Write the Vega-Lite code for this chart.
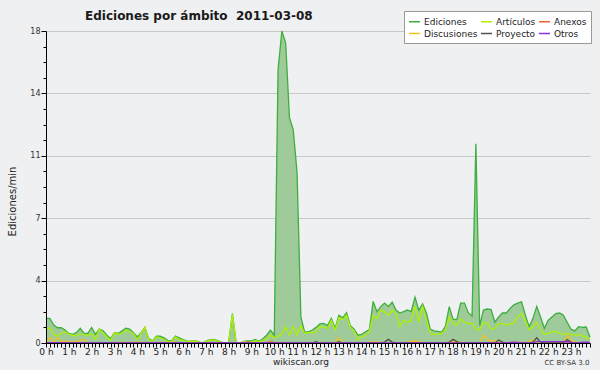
{
"$schema": "https://vega.github.io/schema/vega-lite/v6.json",
"width": 544, "height": 312,
"autosize": {"type": "none"},
"padding": {"left": 46, "top": 31, "right": 10, "bottom": 27},
"background": "#eff0f1",
"config": {"view": {"stroke": null}, "font": "DejaVu Sans"},
"title": {"text": "Ediciones por ámbito \u00a02011-03-08", "anchor": "start", "frame": "group", "dx": 39, "dy": 19, "offset": -2, "fontSize": 12, "fontWeight": "bold", "color": "#1a1a1a", "font": "DejaVu Sans", "baseline": "alphabetic"},
"data": {"values": [
{"m":0,"Ediciones":1.42,"Artículos":0.85,"Anexos":0,"Discusiones":0,"Proyecto":0,"Otros":0},
{"m":10,"Ediciones":1.42,"Artículos":0.85,"Anexos":0,"Discusiones":0.33,"Proyecto":0,"Otros":0},
{"m":20,"Ediciones":1.05,"Artículos":0.5,"Anexos":0,"Discusiones":0.05,"Proyecto":0,"Otros":0},
{"m":30,"Ediciones":0.88,"Artículos":0.4,"Anexos":0,"Discusiones":0.33,"Proyecto":0,"Otros":0},
{"m":40,"Ediciones":0.88,"Artículos":0.55,"Anexos":0,"Discusiones":0.1,"Proyecto":0,"Otros":0},
{"m":50,"Ediciones":0.75,"Artículos":0.65,"Anexos":0,"Discusiones":0.08,"Proyecto":0,"Otros":0},
{"m":60,"Ediciones":0.55,"Artículos":0.5,"Anexos":0,"Discusiones":0.1,"Proyecto":0,"Otros":0},
{"m":70,"Ediciones":0.5,"Artículos":0.45,"Anexos":0,"Discusiones":0.02,"Proyecto":0,"Otros":0},
{"m":80,"Ediciones":0.6,"Artículos":0.4,"Anexos":0,"Discusiones":0.1,"Proyecto":0,"Otros":0},
{"m":90,"Ediciones":0.85,"Artículos":0.5,"Anexos":0,"Discusiones":0.15,"Proyecto":0,"Otros":0},
{"m":100,"Ediciones":0.56,"Artículos":0.5,"Anexos":0,"Discusiones":0.2,"Proyecto":0,"Otros":0},
{"m":110,"Ediciones":0.56,"Artículos":0.4,"Anexos":0,"Discusiones":0,"Proyecto":0,"Otros":0},
{"m":120,"Ediciones":0.9,"Artículos":0.55,"Anexos":0,"Discusiones":0,"Proyecto":0,"Otros":0},
{"m":130,"Ediciones":0.5,"Artículos":0.2,"Anexos":0,"Discusiones":0,"Proyecto":0,"Otros":0},
{"m":140,"Ediciones":0.81,"Artículos":0.8,"Anexos":0,"Discusiones":0,"Proyecto":0,"Otros":0},
{"m":150,"Ediciones":0.7,"Artículos":0.6,"Anexos":0,"Discusiones":0,"Proyecto":0,"Otros":0},
{"m":160,"Ediciones":0.45,"Artículos":0.35,"Anexos":0,"Discusiones":0,"Proyecto":0,"Otros":0},
{"m":170,"Ediciones":0.25,"Artículos":0.15,"Anexos":0,"Discusiones":0,"Proyecto":0,"Otros":0},
{"m":180,"Ediciones":0.6,"Artículos":0.6,"Anexos":0,"Discusiones":0,"Proyecto":0,"Otros":0},
{"m":190,"Ediciones":0.55,"Artículos":0.5,"Anexos":0,"Discusiones":0,"Proyecto":0,"Otros":0},
{"m":200,"Ediciones":0.7,"Artículos":0.55,"Anexos":0,"Discusiones":0.07,"Proyecto":0,"Otros":0},
{"m":210,"Ediciones":0.85,"Artículos":0.75,"Anexos":0,"Discusiones":0,"Proyecto":0,"Otros":0},
{"m":220,"Ediciones":0.8,"Artículos":0.65,"Anexos":0,"Discusiones":0,"Proyecto":0,"Otros":0},
{"m":230,"Ediciones":0.6,"Artículos":0.55,"Anexos":0,"Discusiones":0,"Proyecto":0,"Otros":0},
{"m":240,"Ediciones":0.35,"Artículos":0.2,"Anexos":0,"Discusiones":0.07,"Proyecto":0,"Otros":0},
{"m":250,"Ediciones":0.6,"Artículos":0.55,"Anexos":0,"Discusiones":0.03,"Proyecto":0,"Otros":0},
{"m":260,"Ediciones":0.9,"Artículos":0.9,"Anexos":0,"Discusiones":0,"Proyecto":0,"Otros":0},
{"m":270,"Ediciones":0.25,"Artículos":0.2,"Anexos":0,"Discusiones":0,"Proyecto":0,"Otros":0},
{"m":280,"Ediciones":0.12,"Artículos":0.1,"Anexos":0,"Discusiones":0,"Proyecto":0,"Otros":0},
{"m":290,"Ediciones":0.4,"Artículos":0.35,"Anexos":0,"Discusiones":0,"Proyecto":0,"Otros":0},
{"m":300,"Ediciones":0.4,"Artículos":0.3,"Anexos":0,"Discusiones":0,"Proyecto":0,"Otros":0},
{"m":310,"Ediciones":0.3,"Artículos":0.2,"Anexos":0,"Discusiones":0,"Proyecto":0,"Otros":0},
{"m":320,"Ediciones":0.15,"Artículos":0.1,"Anexos":0,"Discusiones":0,"Proyecto":0,"Otros":0},
{"m":330,"Ediciones":0.12,"Artículos":0.08,"Anexos":0,"Discusiones":0.05,"Proyecto":0,"Otros":0},
{"m":340,"Ediciones":0.4,"Artículos":0.35,"Anexos":0,"Discusiones":0.05,"Proyecto":0,"Otros":0},
{"m":350,"Ediciones":0.3,"Artículos":0.2,"Anexos":0,"Discusiones":0,"Proyecto":0,"Otros":0},
{"m":360,"Ediciones":0.2,"Artículos":0.15,"Anexos":0,"Discusiones":0,"Proyecto":0,"Otros":0},
{"m":370,"Ediciones":0.12,"Artículos":0.1,"Anexos":0,"Discusiones":0,"Proyecto":0,"Otros":0},
{"m":380,"Ediciones":0.1,"Artículos":0.08,"Anexos":0,"Discusiones":0,"Proyecto":0,"Otros":0},
{"m":390,"Ediciones":0.12,"Artículos":0.1,"Anexos":0,"Discusiones":0,"Proyecto":0,"Otros":0},
{"m":400,"Ediciones":0.1,"Artículos":0.08,"Anexos":0,"Discusiones":0,"Proyecto":0,"Otros":0},
{"m":410,"Ediciones":0,"Artículos":0,"Anexos":0,"Discusiones":0,"Proyecto":0,"Otros":0},
{"m":420,"Ediciones":0.1,"Artículos":0.08,"Anexos":0,"Discusiones":0,"Proyecto":0,"Otros":0},
{"m":430,"Ediciones":0.18,"Artículos":0.15,"Anexos":0,"Discusiones":0,"Proyecto":0,"Otros":0},
{"m":440,"Ediciones":0.21,"Artículos":0.18,"Anexos":0,"Discusiones":0,"Proyecto":0,"Otros":0},
{"m":450,"Ediciones":0.15,"Artículos":0.12,"Anexos":0,"Discusiones":0,"Proyecto":0,"Otros":0},
{"m":460,"Ediciones":0.05,"Artículos":0.03,"Anexos":0,"Discusiones":0,"Proyecto":0,"Otros":0},
{"m":470,"Ediciones":0,"Artículos":0,"Anexos":0,"Discusiones":0,"Proyecto":0,"Otros":0},
{"m":480,"Ediciones":0,"Artículos":0,"Anexos":0,"Discusiones":0,"Proyecto":0,"Otros":0},
{"m":490,"Ediciones":1.7,"Artículos":1.65,"Anexos":0,"Discusiones":0,"Proyecto":0,"Otros":0},
{"m":500,"Ediciones":0,"Artículos":0,"Anexos":0,"Discusiones":0,"Proyecto":0,"Otros":0},
{"m":510,"Ediciones":0,"Artículos":0,"Anexos":0,"Discusiones":0,"Proyecto":0,"Otros":0},
{"m":520,"Ediciones":0.1,"Artículos":0.08,"Anexos":0,"Discusiones":0,"Proyecto":0,"Otros":0},
{"m":530,"Ediciones":0.12,"Artículos":0.06,"Anexos":0.06,"Discusiones":0,"Proyecto":0,"Otros":0},
{"m":540,"Ediciones":0.12,"Artículos":0.05,"Anexos":0.02,"Discusiones":0,"Proyecto":0,"Otros":0},
{"m":550,"Ediciones":0.2,"Artículos":0.15,"Anexos":0,"Discusiones":0,"Proyecto":0,"Otros":0},
{"m":560,"Ediciones":0.1,"Artículos":0.08,"Anexos":0,"Discusiones":0,"Proyecto":0,"Otros":0},
{"m":570,"Ediciones":0.25,"Artículos":0.15,"Anexos":0,"Discusiones":0,"Proyecto":0,"Otros":0},
{"m":580,"Ediciones":0.45,"Artículos":0.25,"Anexos":0,"Discusiones":0,"Proyecto":0,"Otros":0},
{"m":590,"Ediciones":0.75,"Artículos":0.45,"Anexos":0.1,"Discusiones":0.05,"Proyecto":0,"Otros":0},
{"m":600,"Ediciones":0.45,"Artículos":0.3,"Anexos":0.02,"Discusiones":0,"Proyecto":0,"Otros":0},
{"m":610,"Ediciones":15.75,"Artículos":0.4,"Anexos":0,"Discusiones":0,"Proyecto":0,"Otros":0},
{"m":620,"Ediciones":18,"Artículos":0.5,"Anexos":0,"Discusiones":0,"Proyecto":0,"Otros":0},
{"m":630,"Ediciones":17.3,"Artículos":0.94,"Anexos":0,"Discusiones":0,"Proyecto":0,"Otros":0},
{"m":640,"Ediciones":13,"Artículos":0.45,"Anexos":0,"Discusiones":0,"Proyecto":0,"Otros":0},
{"m":650,"Ediciones":12.3,"Artículos":0.94,"Anexos":0,"Discusiones":0,"Proyecto":0,"Otros":0},
{"m":660,"Ediciones":9.8,"Artículos":0.45,"Anexos":0,"Discusiones":0,"Proyecto":0,"Otros":0},
{"m":670,"Ediciones":1.5,"Artículos":0.98,"Anexos":0,"Discusiones":0,"Proyecto":0,"Otros":0},
{"m":680,"Ediciones":0.62,"Artículos":0.56,"Anexos":0,"Discusiones":0,"Proyecto":0,"Otros":0},
{"m":690,"Ediciones":0.65,"Artículos":0.6,"Anexos":0,"Discusiones":0,"Proyecto":0,"Otros":0},
{"m":700,"Ediciones":0.75,"Artículos":0.6,"Anexos":0,"Discusiones":0,"Proyecto":0,"Otros":0},
{"m":710,"Ediciones":0.9,"Artículos":0.65,"Anexos":0,"Discusiones":0,"Proyecto":0.07,"Otros":0},
{"m":720,"Ediciones":1.1,"Artículos":0.95,"Anexos":0,"Discusiones":0.05,"Proyecto":0,"Otros":0},
{"m":730,"Ediciones":1.13,"Artículos":0.9,"Anexos":0,"Discusiones":0,"Proyecto":0,"Otros":0},
{"m":740,"Ediciones":1.0,"Artículos":0.85,"Anexos":0,"Discusiones":0,"Proyecto":0,"Otros":0},
{"m":750,"Ediciones":1.42,"Artículos":1.3,"Anexos":0,"Discusiones":0,"Proyecto":0,"Otros":0},
{"m":760,"Ediciones":0.85,"Artículos":0.75,"Anexos":0,"Discusiones":0.05,"Proyecto":0,"Otros":0},
{"m":770,"Ediciones":1.6,"Artículos":1.46,"Anexos":0,"Discusiones":0.3,"Proyecto":0.07,"Otros":0},
{"m":780,"Ediciones":1.45,"Artículos":1.35,"Anexos":0,"Discusiones":0.05,"Proyecto":0,"Otros":0},
{"m":790,"Ediciones":1.75,"Artículos":1.6,"Anexos":0,"Discusiones":0,"Proyecto":0,"Otros":0},
{"m":800,"Ediciones":1.0,"Artículos":0.9,"Anexos":0,"Discusiones":0,"Proyecto":0,"Otros":0},
{"m":810,"Ediciones":0.8,"Artículos":0.7,"Anexos":0,"Discusiones":0,"Proyecto":0,"Otros":0},
{"m":820,"Ediciones":0.45,"Artículos":0.2,"Anexos":0,"Discusiones":0,"Proyecto":0,"Otros":0},
{"m":830,"Ediciones":0.5,"Artículos":0.35,"Anexos":0,"Discusiones":0,"Proyecto":0,"Otros":0},
{"m":840,"Ediciones":0.65,"Artículos":0.46,"Anexos":0,"Discusiones":0,"Proyecto":0,"Otros":0},
{"m":850,"Ediciones":0.77,"Artículos":0.65,"Anexos":0,"Discusiones":0.05,"Proyecto":0,"Otros":0},
{"m":860,"Ediciones":2.4,"Artículos":1.6,"Anexos":0,"Discusiones":0.06,"Proyecto":0,"Otros":0},
{"m":870,"Ediciones":1.81,"Artículos":1.4,"Anexos":0,"Discusiones":0.06,"Proyecto":0,"Otros":0},
{"m":880,"Ediciones":2.1,"Artículos":1.9,"Anexos":0,"Discusiones":0,"Proyecto":0,"Otros":0},
{"m":890,"Ediciones":2.3,"Artículos":1.8,"Anexos":0,"Discusiones":0,"Proyecto":0.05,"Otros":0},
{"m":900,"Ediciones":2.1,"Artículos":1.6,"Anexos":0,"Discusiones":0,"Proyecto":0.21,"Otros":0},
{"m":910,"Ediciones":2.35,"Artículos":1.9,"Anexos":0,"Discusiones":0,"Proyecto":0.05,"Otros":0},
{"m":920,"Ediciones":1.9,"Artículos":1.7,"Anexos":0,"Discusiones":0,"Proyecto":0,"Otros":0},
{"m":930,"Ediciones":1.73,"Artículos":0.94,"Anexos":0,"Discusiones":0,"Proyecto":0,"Otros":0},
{"m":940,"Ediciones":1.81,"Artículos":1.3,"Anexos":0,"Discusiones":0,"Proyecto":0,"Otros":0},
{"m":950,"Ediciones":1.9,"Artículos":1.2,"Anexos":0,"Discusiones":0,"Proyecto":0,"Otros":0},
{"m":960,"Ediciones":1.81,"Artículos":1.3,"Anexos":0,"Discusiones":0.1,"Proyecto":0,"Otros":0},
{"m":970,"Ediciones":2.65,"Artículos":2.13,"Anexos":0,"Discusiones":0.1,"Proyecto":0,"Otros":0},
{"m":980,"Ediciones":1.9,"Artículos":1.2,"Anexos":0,"Discusiones":0.08,"Proyecto":0,"Otros":0},
{"m":990,"Ediciones":2.25,"Artículos":2.1,"Anexos":0,"Discusiones":0,"Proyecto":0,"Otros":0},
{"m":1000,"Ediciones":1.73,"Artículos":1.3,"Anexos":0,"Discusiones":0,"Proyecto":0,"Otros":0},
{"m":1010,"Ediciones":0.8,"Artículos":0.56,"Anexos":0,"Discusiones":0,"Proyecto":0,"Otros":0},
{"m":1020,"Ediciones":0.7,"Artículos":0.5,"Anexos":0,"Discusiones":0,"Proyecto":0,"Otros":0},
{"m":1030,"Ediciones":0.67,"Artículos":0.52,"Anexos":0,"Discusiones":0,"Proyecto":0,"Otros":0},
{"m":1040,"Ediciones":0.63,"Artículos":0.55,"Anexos":0,"Discusiones":0,"Proyecto":0,"Otros":0},
{"m":1050,"Ediciones":0.96,"Artículos":0.75,"Anexos":0,"Discusiones":0,"Proyecto":0,"Otros":0},
{"m":1060,"Ediciones":2.1,"Artículos":1.5,"Anexos":0,"Discusiones":0,"Proyecto":0.05,"Otros":0},
{"m":1070,"Ediciones":1.37,"Artículos":1.13,"Anexos":0,"Discusiones":0.1,"Proyecto":0.21,"Otros":0},
{"m":1080,"Ediciones":1.35,"Artículos":1.04,"Anexos":0,"Discusiones":0.1,"Proyecto":0.08,"Otros":0},
{"m":1090,"Ediciones":2.3,"Artículos":1.4,"Anexos":0,"Discusiones":0,"Proyecto":0,"Otros":0},
{"m":1100,"Ediciones":2.3,"Artículos":1.2,"Anexos":0,"Discusiones":0,"Proyecto":0,"Otros":0},
{"m":1110,"Ediciones":1.75,"Artículos":1.1,"Anexos":0,"Discusiones":0,"Proyecto":0,"Otros":0},
{"m":1120,"Ediciones":1.55,"Artículos":1.15,"Anexos":0,"Discusiones":0,"Proyecto":0,"Otros":0},
{"m":1130,"Ediciones":11.5,"Artículos":0.8,"Anexos":0,"Discusiones":0,"Proyecto":0,"Otros":0},
{"m":1140,"Ediciones":1.0,"Artículos":0.75,"Anexos":0,"Discusiones":0,"Proyecto":0,"Otros":0},
{"m":1150,"Ediciones":1.9,"Artículos":1.2,"Anexos":0,"Discusiones":0.46,"Proyecto":0,"Otros":0},
{"m":1160,"Ediciones":1.96,"Artículos":1.15,"Anexos":0,"Discusiones":0.2,"Proyecto":0,"Otros":0},
{"m":1170,"Ediciones":1.93,"Artículos":0.8,"Anexos":0,"Discusiones":0.1,"Proyecto":0,"Otros":0},
{"m":1180,"Ediciones":1.2,"Artículos":0.85,"Anexos":0,"Discusiones":0.15,"Proyecto":0,"Otros":0},
{"m":1190,"Ediciones":1.5,"Artículos":1.1,"Anexos":0,"Discusiones":0.05,"Proyecto":0.17,"Otros":0},
{"m":1200,"Ediciones":1.73,"Artículos":1.1,"Anexos":0,"Discusiones":0,"Proyecto":0.05,"Otros":0},
{"m":1210,"Ediciones":1.73,"Artículos":1.05,"Anexos":0,"Discusiones":0,"Proyecto":0,"Otros":0},
{"m":1220,"Ediciones":2.0,"Artículos":1.1,"Anexos":0,"Discusiones":0,"Proyecto":0,"Otros":0.03},
{"m":1230,"Ediciones":2.2,"Artículos":1.15,"Anexos":0,"Discusiones":0.05,"Proyecto":0,"Otros":0.05},
{"m":1240,"Ediciones":2.3,"Artículos":1.5,"Anexos":0,"Discusiones":0.05,"Proyecto":0,"Otros":0.03},
{"m":1250,"Ediciones":2.38,"Artículos":1.7,"Anexos":0,"Discusiones":0,"Proyecto":0,"Otros":0},
{"m":1260,"Ediciones":1.62,"Artículos":1.3,"Anexos":0,"Discusiones":0,"Proyecto":0,"Otros":0},
{"m":1270,"Ediciones":0.94,"Artículos":0.75,"Anexos":0,"Discusiones":0.1,"Proyecto":0,"Otros":0},
{"m":1280,"Ediciones":1.42,"Artículos":0.94,"Anexos":0,"Discusiones":0.2,"Proyecto":0.05,"Otros":0},
{"m":1290,"Ediciones":2.1,"Artículos":1.2,"Anexos":0,"Discusiones":0.05,"Proyecto":0.3,"Otros":0.08},
{"m":1300,"Ediciones":1.5,"Artículos":0.75,"Anexos":0,"Discusiones":0,"Proyecto":0.05,"Otros":0.08},
{"m":1310,"Ediciones":0.85,"Artículos":0.5,"Anexos":0,"Discusiones":0,"Proyecto":0,"Otros":0.08},
{"m":1320,"Ediciones":1.3,"Artículos":0.55,"Anexos":0,"Discusiones":0,"Proyecto":0,"Otros":0.08},
{"m":1330,"Ediciones":1.5,"Artículos":0.65,"Anexos":0,"Discusiones":0,"Proyecto":0,"Otros":0.08},
{"m":1340,"Ediciones":1.7,"Artículos":0.65,"Anexos":0,"Discusiones":0,"Proyecto":0,"Otros":0.08},
{"m":1350,"Ediciones":1.73,"Artículos":0.56,"Anexos":0,"Discusiones":0,"Proyecto":0,"Otros":0.08},
{"m":1360,"Ediciones":1.6,"Artículos":0.5,"Anexos":0.1,"Discusiones":0,"Proyecto":0,"Otros":0.08},
{"m":1370,"Ediciones":1.2,"Artículos":0.55,"Anexos":0.02,"Discusiones":0.46,"Proyecto":0.2,"Otros":0.08},
{"m":1380,"Ediciones":0.8,"Artículos":0.5,"Anexos":0,"Discusiones":0.15,"Proyecto":0.05,"Otros":0.03},
{"m":1390,"Ediciones":0.7,"Artículos":0.45,"Anexos":0,"Discusiones":0.05,"Proyecto":0,"Otros":0},
{"m":1400,"Ediciones":0.94,"Artículos":0.5,"Anexos":0,"Discusiones":0,"Proyecto":0,"Otros":0},
{"m":1410,"Ediciones":0.9,"Artículos":0.4,"Anexos":0,"Discusiones":0,"Proyecto":0,"Otros":0.05},
{"m":1420,"Ediciones":0.92,"Artículos":0.35,"Anexos":0,"Discusiones":0.05,"Proyecto":0,"Otros":0.05},
{"m":1430,"Ediciones":0.33,"Artículos":0.2,"Anexos":0,"Discusiones":0,"Proyecto":0,"Otros":0.03}
]},
"layer": [
{
"mark": {"type": "area", "color": "#9fcb9a", "opacity": 1},
"encoding": {
"x": {"field": "m", "type": "quantitative", "scale": {"domain": [0, 1430], "nice": false, "zero": false},
"axis": {"orient": "bottom", "domain": false, "ticks": false, "labels": false, "grid": false, "title": "CC BY-SA 3.0", "titleX": 543, "titleY": 21.5, "titleAlign": "right", "titleAnchor": null, "titleBaseline": "alphabetic", "titleFontSize": 7, "titleFontWeight": "normal", "titleColor": "#333333", "titleFont": "DejaVu Sans"}},
"y": {"field": "Ediciones", "type": "quantitative", "scale": {"domain": [0, 18], "nice": false},
"axis": {"orient": "left", "values": [0, 3.6, 7.2, 10.8, 14.4, 18], "domain": false, "ticks": false, "labels": false, "grid": true, "gridColor": "#c8c8c8", "gridWidth": 1, "title": null, "zindex": 0}}
}
},
{
"transform": [{"fold": ["Ediciones", "Artículos", "Anexos", "Discusiones", "Proyecto", "Otros"], "as": ["serie", "valor"]}],
"mark": {"type": "line", "strokeWidth": 1.3},
"encoding": {
"x": {"field": "m", "type": "quantitative", "scale": {"domain": [0, 1430], "nice": false, "zero": false},
"axis": {"orient": "bottom", "zindex": 1, "grid": false, "values": [0,10,20,30,40,50,60,70,80,90,100,110,120,130,140,150,160,170,180,190,200,210,220,230,240,250,260,270,280,290,300,310,320,330,340,350,360,370,380,390,400,410,420,430,440,450,460,470,480,490,500,510,520,530,540,550,560,570,580,590,600,610,620,630,640,650,660,670,680,690,700,710,720,730,740,750,760,770,780,790,800,810,820,830,840,850,860,870,880,890,900,910,920,930,940,950,960,970,980,990,1000,1010,1020,1030,1040,1050,1060,1070,1080,1090,1100,1110,1120,1130,1140,1150,1160,1170,1180,1190,1200,1210,1220,1230,1240,1250,1260,1270,1280,1290,1300,1310,1320,1330,1340,1350,1360,1370,1380,1390,1400,1410,1420,1430],
"labelExpr": "datum.value % 60 === 0 ? (datum.value / 60) + ' h' : ''",
"tickSize": 4, "tickColor": "#000000", "tickWidth": 1, "domainColor": "#000000", "domainWidth": 1,
"labelFontSize": 9, "labelColor": "#222222", "labelPadding": 0, "labelOverlap": false, "labelFlush": false, "labelBound": false, "labelFont": "DejaVu Sans",
"title": "wikiscan.org", "titleX": 254.5, "titleY": 21.5, "titleAlign": "center", "titleAnchor": null, "titleBaseline": "alphabetic", "titleFontSize": 9, "titleFontWeight": "normal", "titleColor": "#222222", "titleFont": "DejaVu Sans"}},
"y": {"field": "valor", "type": "quantitative", "scale": {"domain": [0, 18], "nice": false},
"axis": {"orient": "left", "zindex": 1, "grid": false, "values": [0,0.9,1.8,2.7,3.6,4.5,5.4,6.3,7.2,8.1,9,9.9,10.8,11.7,12.6,13.5,14.4,15.3,16.2,17.1,18],
"labelExpr": "abs(datum.value / 3.6 - round(datum.value / 3.6)) < 0.01 ? format(datum.value, '.0f') : ''",
"tickSize": {"condition": {"test": "abs(datum.value / 3.6 - round(datum.value / 3.6)) < 0.01", "value": 5}, "value": 3},
"tickColor": "#000000", "domainColor": "#000000", "labelFontSize": 8, "labelColor": "#333333", "labelPadding": 1, "labelFont": "DejaVu Sans", "labelOverlap": false,
"title": "Ediciones/min", "titleX": -34, "titleY": 170, "titleAngle": 270, "titleAlign": "center", "titleBaseline": "middle", "titleFontSize": 10, "titleFontWeight": "normal", "titleColor": "#222222", "titleFont": "DejaVu Sans"}},
"color": {"field": "serie", "type": "nominal",
"scale": {"domain": ["Ediciones", "Artículos", "Anexos", "Discusiones", "Proyecto", "Otros"], "range": ["#3caf3c", "#adf000", "#f06030", "#f0c020", "#505050", "#8a30e0"]},
"legend": {"orient": "none", "legendX": 358, "legendY": -20, "columns": 3, "direction": "horizontal", "title": null, "fillColor": "#ffffff", "strokeColor": "#999999", "padding": 4, "labelFontSize": 9, "labelColor": "#222222", "labelFont": "DejaVu Sans", "symbolType": "stroke", "symbolSize": 121, "symbolStrokeWidth": 1.5, "labelOffset": 3, "columnPadding": 0, "rowPadding": -4, "labelLimit": 120}}
}
}
],
"resolve": {"axis": {"x": "independent", "y": "independent"}}
}
